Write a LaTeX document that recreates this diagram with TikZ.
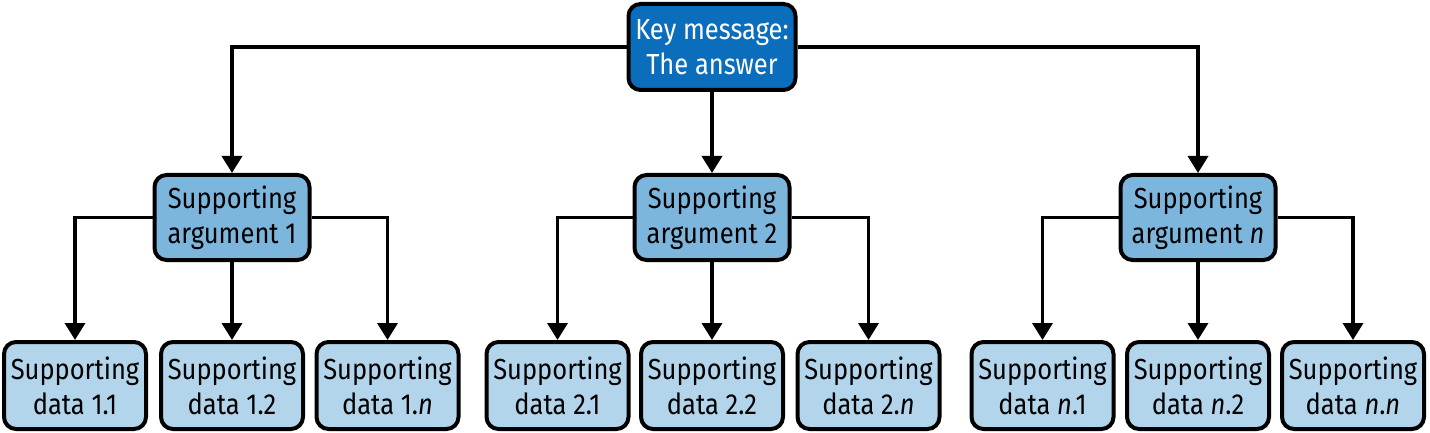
\documentclass[tikz,border=0pt]{standalone}
\usepackage{fontspec}
\setmainfont{Fira Sans}[FakeStretch=0.88]
\usetikzlibrary{arrows.meta}
\definecolor{topblue}{HTML}{0A6EBD}
\definecolor{midblue}{HTML}{7DB6DD}
\definecolor{lowblue}{HTML}{B3D5EC}
\tikzset{
  boxbase/.style={draw=black, line width=4pt, rounded corners=12pt, align=center,
    inner sep=0pt, font=\fontsize{29}{35}\selectfont},
  topbox/.style={boxbase, fill=topblue, text=white, minimum width=167pt, minimum height=86pt},
  midbox/.style={boxbase, fill=midblue, minimum width=155pt, minimum height=85pt},
  lowbox/.style={boxbase, fill=lowblue, minimum width=142pt, minimum height=87pt},
  conn/.style={line width=3.6pt, -{Triangle[width=20pt,length=17pt]}},
}
\begin{document}
\begin{tikzpicture}
\useasboundingbox (0,0) rectangle (1430pt,-433pt);
\node[topbox] (top) at (712pt,-47pt) {Key message:\\The answer};
\node[midbox] (m1) at (232pt,-217.5pt) {Supporting\\argument 1};
\node[midbox] (m2) at (712pt,-217.5pt) {Supporting\\argument 2};
\node[midbox] (mn) at (1198pt,-217.5pt) {Supporting\\argument \textit{n}};
\node[lowbox] (b11) at (75pt,-385.5pt) {Supporting\\data 1.1};
\node[lowbox] (b12) at (232pt,-385.5pt) {Supporting\\data 1.2};
\node[lowbox] (b1n) at (387.5pt,-385.5pt) {Supporting\\data 1.\textit{n}};
\node[lowbox] (b21) at (557.5pt,-385.5pt) {Supporting\\data 2.1};
\node[lowbox] (b22) at (712pt,-385.5pt) {Supporting\\data 2.2};
\node[lowbox] (b2n) at (868.5pt,-385.5pt) {Supporting\\data 2.\textit{n}};
\node[lowbox] (bn1) at (1042.5pt,-385.5pt) {Supporting\\data \textit{n}.1};
\node[lowbox] (bn2) at (1198pt,-385.5pt) {Supporting\\data \textit{n}.2};
\node[lowbox] (bnn) at (1353pt,-385.5pt) {Supporting\\data \textit{n}.\textit{n}};
\draw[conn] (top.west) -| (m1.north);
\draw[conn] (top.south) -- (m2.north);
\draw[conn] (top.east) -| (mn.north);
\draw[conn] (m1.west) -| (b11.north);
\draw[conn] (m1.south) -- (b12.north);
\draw[conn] (m1.east) -| (b1n.north);
\draw[conn] (m2.west) -| (b21.north);
\draw[conn] (m2.south) -- (b22.north);
\draw[conn] (m2.east) -| (b2n.north);
\draw[conn] (mn.west) -| (bn1.north);
\draw[conn] (mn.south) -- (bn2.north);
\draw[conn] (mn.east) -| (bnn.north);
\end{tikzpicture}
\end{document}
